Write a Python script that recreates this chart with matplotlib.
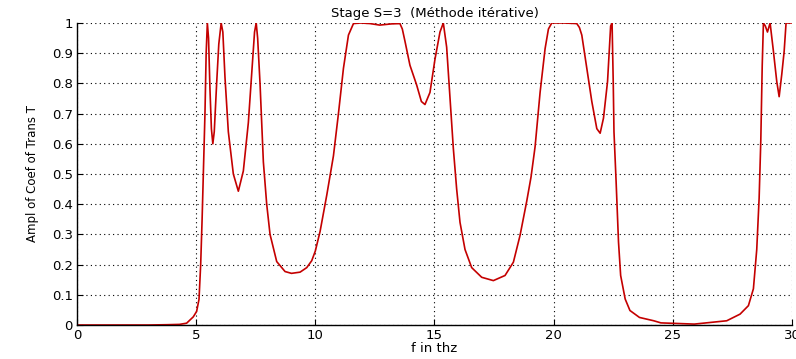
import matplotlib
matplotlib.use("Agg")
import matplotlib.pyplot as plt
import numpy as np

freq = [0, 1, 2, 3, 3.8, 4.3, 4.6, 4.88, 5.02, 5.12, 5.19, 5.25, 5.30, 5.37, 5.42, 5.47,
        5.52, 5.58, 5.64, 5.70, 5.76, 5.86, 5.95, 6.05, 6.12, 6.21, 6.35, 6.56, 6.77, 6.98,
        7.19, 7.33, 7.45, 7.52, 7.58, 7.68, 7.82, 7.96, 8.10, 8.38, 8.73, 9.0, 9.36, 9.64,
        9.85, 10.0, 10.2, 10.48, 10.76, 10.97, 11.18, 11.39, 11.6, 11.9, 12.3, 12.7, 13.2, 13.55,
        13.65, 13.76, 13.97, 14.25, 14.45, 14.6, 14.81, 15.02, 15.23, 15.37, 15.51, 15.65, 15.79,
        15.93, 16.07, 16.28, 16.56, 16.98, 17.47, 17.96, 18.31, 18.59, 18.87, 19.05, 19.22,
        19.43, 19.64, 19.78, 19.92, 20.4, 20.97, 21.08, 21.18, 21.39, 21.6, 21.81, 21.95, 22.09,
        22.26, 22.39, 22.45, 22.50, 22.53, 22.62, 22.72, 22.81, 23.0, 23.2, 23.6, 24.2, 24.5,
        25.9, 27.26, 27.82, 28.17, 28.38, 28.52, 28.62, 28.69, 28.75, 28.8, 28.88, 28.97,
        29.08, 29.22, 29.36, 29.46, 29.57, 29.67, 29.75, 30.0]
trans = [0, 0, 0, 0, 0.001, 0.002, 0.006, 0.027, 0.045, 0.085, 0.2, 0.35, 0.5, 0.7, 0.9, 1.0,
         0.95, 0.78, 0.65, 0.60, 0.64, 0.80, 0.93, 1.0, 0.97, 0.82, 0.64, 0.50, 0.443, 0.51,
         0.67, 0.83, 0.97, 1.0, 0.95, 0.80, 0.54, 0.40, 0.30, 0.21, 0.177, 0.171, 0.175, 0.19,
         0.213, 0.245, 0.31, 0.43, 0.56, 0.70, 0.85, 0.96, 0.998, 1.0, 0.998, 0.993, 0.997, 0.998,
         0.98, 0.94, 0.86, 0.795, 0.74, 0.73, 0.77, 0.88, 0.97, 1.0, 0.92, 0.75, 0.585,
         0.45, 0.34, 0.25, 0.19, 0.158, 0.147, 0.164, 0.208, 0.297, 0.41, 0.49, 0.59,
         0.77, 0.915, 0.98, 1.0, 1.0, 0.998, 0.985, 0.96, 0.85, 0.74, 0.65, 0.635, 0.685,
         0.806, 0.99, 1.0, 0.8, 0.64, 0.474, 0.275, 0.164, 0.086, 0.048, 0.025, 0.014, 0.007,
         0.003, 0.014, 0.036, 0.064, 0.12, 0.25, 0.42, 0.61, 0.86, 1.0, 0.99, 0.97,
         1.0, 0.906, 0.806, 0.756, 0.83, 0.906, 1.0, 1.0]

xticks = [0, 5, 10, 15, 20, 25, 30]
yticks = [0, 0.1, 0.2, 0.3, 0.4, 0.5, 0.6, 0.7, 0.8, 0.9, 1]
ytick_labels = ["0", "0.1", "0.2", "0.3", "0.4", "0.5", "0.6", "0.7", "0.8", "0.9", "1"]

fig = plt.figure(figsize=(7.96, 3.59), dpi=100)
ax = fig.add_axes([0.0967, 0.0947, 0.8983, 0.8413])
ax.plot(freq, trans, color="#c40000", lw=1.2, clip_on=True)
ax.set_xlim(0, 30)
ax.set_ylim(0, 1)
ax.set_xticks(xticks)
ax.set_yticks(yticks)
ax.set_yticklabels(ytick_labels)
ax.grid(True, linestyle=(0, (1, 3)), color="black", linewidth=0.8)
for s in ["top", "right"]:
    ax.spines[s].set_visible(False)
for s in ["left", "bottom"]:
    ax.spines[s].set_linewidth(1.0)
ax.tick_params(direction="in", length=4, labelsize=9.5, colors="black", pad=3)
ax.set_title("Stage S=3  (Méthode itérative)", fontsize=9.5, pad=4)
ax.set_xlabel("f in thz", fontsize=9.5, labelpad=0)
ax.set_ylabel("Ampl of Coef of Trans T", fontsize=8.5,
              family=["Liberation Sans Narrow", "DejaVu Sans"], labelpad=9)
fig.savefig("out.png", dpi=100)
